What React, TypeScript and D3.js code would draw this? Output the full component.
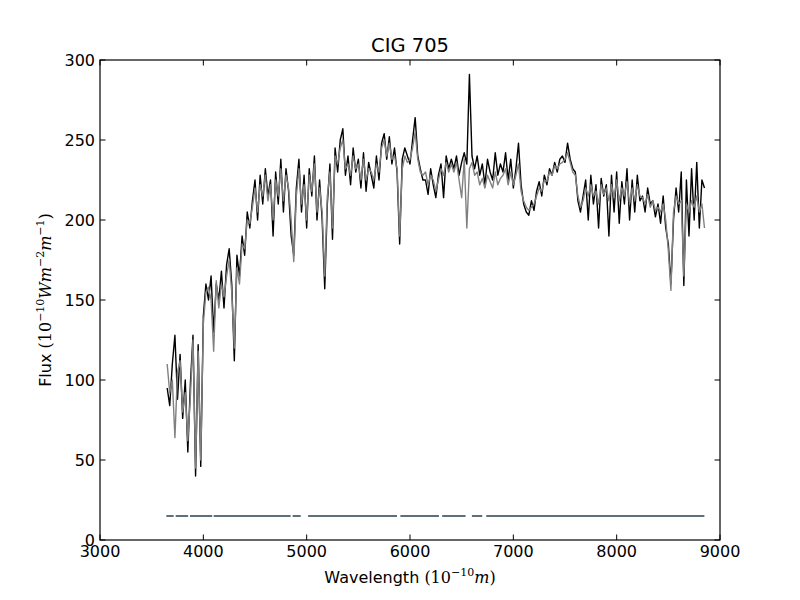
import * as d3 from "d3";

// spectrum sampled every 25 Å from 3650 Å
const waveStart = 3650;
const waveStep = 25;

// observed flux (black)
const observedFlux = [
  95, 84, 110, 128, 88, 116, 76, 100, 55, 98,
  128, 40, 122, 46, 140, 160, 150, 165, 130, 160,
  150, 168, 145, 172, 182, 160, 112, 178, 165, 190,
  178, 205, 195, 212, 225, 200, 228, 210, 232, 215,
  225, 190, 230, 210, 238, 205, 232, 218, 190, 178,
  220, 238, 205, 228, 195, 232, 215, 240, 200, 225,
  200, 157, 210, 235, 188, 245, 230, 250, 257, 228,
  240, 222, 245, 230, 238, 220, 242, 218, 236, 228,
  220, 240, 225, 248, 254, 238, 252, 235, 245, 230,
  185, 238, 245, 240, 235, 250, 264, 240, 232, 225,
  225, 216, 232, 222, 214, 228, 235, 214, 240, 232,
  238, 232, 240, 228, 236, 242, 235, 291, 240, 232,
  240, 228, 235, 222, 238, 230, 225, 242, 228, 235,
  230, 242, 225, 238, 220, 232, 248, 222, 210, 205,
  203, 212, 206, 218, 224, 215, 228, 222, 232, 228,
  236, 230, 238, 240, 236, 248, 238, 232, 230, 212,
  205, 215, 225, 200, 228, 210, 222, 195, 226, 215,
  222, 190, 228, 205, 230, 198, 224, 210, 232, 200,
  225, 205, 228, 212, 215, 205, 220, 210, 212, 202,
  210, 198, 215, 195, 185, 160, 200, 220, 205, 230,
  159, 225, 190, 232, 200, 236, 195, 225, 220,
];

// model flux (grey)
const modelFlux = [
  110, 92, 100, 64, 105, 112, 80, 92, 62, 90,
  125, 45, 118, 50, 135, 155, 158, 150, 118, 162,
  145, 160, 152, 165, 175, 155, 120, 170, 160, 185,
  182, 200, 198, 208, 220, 205, 222, 215, 228, 212,
  222, 200, 225, 215, 232, 212, 228, 220, 200, 174,
  215, 232, 210, 222, 200, 228, 218, 235, 205, 220,
  205, 165, 215, 230, 195, 240, 235, 245, 250, 232,
  235, 228, 240, 232, 235, 225, 238, 225, 232, 230,
  225, 235, 230, 245, 250, 240, 248, 238, 240, 232,
  190, 232, 240, 236, 238, 245, 255, 238, 230, 228,
  230, 222, 228, 225, 218, 225, 232, 228, 236, 230,
  235, 230, 236, 225, 214, 238, 195, 232, 236, 228,
  230, 222, 226, 220, 228, 224, 220, 230, 222, 226,
  228, 232, 222, 230, 222, 228, 235, 218, 212, 208,
  206, 208, 210, 215, 220, 218, 225, 224, 230, 228,
  234, 232, 235, 236, 238, 242, 236, 230, 228, 215,
  208, 212, 220, 215, 222, 215, 218, 210, 222, 216,
  220, 212, 222, 214, 225, 212, 220, 215, 224, 210,
  220, 212, 222, 215, 214, 210, 216, 208, 212, 206,
  208, 205, 210, 200, 181, 156, 205, 215, 210, 212,
  165, 210, 205, 212, 208, 215, 205, 210, 195,
];

// wavelength ranges of the mask drawn near the bottom
const maskSegments: [number, number][] = [
  [3642, 3713], [3732, 3853], [3871, 4086], [4100, 4845], [4864, 4942],
  [5014, 5874], [5907, 6280], [6311, 6538], [6599, 6699], [6738, 8849],
];
const maskLevel = 15;

const xTicks = [3000, 4000, 5000, 6000, 7000, 8000, 9000];
const yTicks = [0, 50, 100, 150, 200, 250, 300];
const title = "CIG 705";

/** svg dimensions */
const width = 800;
const height = 600;
const margin = { top: 60, right: 80, bottom: 60, left: 100 };
const tickLen = 5.5;
const lineW = 1.4;
const sans = "'DejaVu Sans', sans-serif";
const serif = "'DejaVu Serif', serif";

const App = () => {
  const xScale = d3
    .scaleLinear()
    .domain([xTicks[0], xTicks[xTicks.length - 1]])
    .range([margin.left, width - margin.right]);
  const yScale = d3
    .scaleLinear()
    .domain([yTicks[0], yTicks[yTicks.length - 1]])
    .range([height - margin.bottom, margin.top]);

  const line = d3
    .line<number>()
    .x((_, i) => xScale(waveStart + i * waveStep))
    .y((d) => yScale(d));

  const x0 = xScale.range()[0];
  const x1 = xScale.range()[1];
  const y0 = yScale.range()[0];
  const y1 = yScale.range()[1];

  return (
    <svg
      width={width}
      height={height}
      viewBox={[0, 0, width, height].join(" ")}
      style={{ position: "absolute", left: 0, top: 0, background: "#fff" }}
    >
      <rect x={0} y={0} width={width} height={height} fill="#fff" />
      <defs>
        <clipPath id="plot">
          <rect x={x0} y={y1} width={x1 - x0} height={y0 - y1} />
        </clipPath>
      </defs>
      <g clipPath="url(#plot)">
        <path d={line(observedFlux) ?? ""} fill="none" stroke="#000" strokeWidth={lineW} strokeLinejoin="round" />
        <path d={line(modelFlux) ?? ""} fill="none" stroke="#808080" strokeWidth={lineW} strokeLinejoin="round" />
        {maskSegments.map(([a, b], i) => (
          <line
            key={i}
            x1={xScale(a)}
            x2={xScale(b)}
            y1={yScale(maskLevel)}
            y2={yScale(maskLevel)}
            stroke="#5f6f77"
            strokeWidth={2}
          />
        ))}
      </g>
      {/* frame */}
      <rect x={x0} y={y1} width={x1 - x0} height={y0 - y1} fill="none" stroke="#000" strokeWidth={1.2} />
      {/* x ticks */}
      {xTicks.map((t) => (
        <g key={t}>
          <line x1={xScale(t)} x2={xScale(t)} y1={y0} y2={y0 - tickLen} stroke="#000" />
          <line x1={xScale(t)} x2={xScale(t)} y1={y1} y2={y1 + tickLen} stroke="#000" />
          <text x={xScale(t)} y={y0 + 17} textAnchor="middle" fontFamily={sans} fontSize={16}>
            {t}
          </text>
        </g>
      ))}
      {/* y ticks */}
      {yTicks.map((t) => (
        <g key={t}>
          <line x1={x0} x2={x0 + tickLen} y1={yScale(t)} y2={yScale(t)} stroke="#000" />
          <line x1={x1} x2={x1 - tickLen} y1={yScale(t)} y2={yScale(t)} stroke="#000" />
          <text x={x0 - 5} y={yScale(t)} dy="0.36em" textAnchor="end" fontFamily={sans} fontSize={16}>
            {t}
          </text>
        </g>
      ))}
      {/* title */}
      <text x={(x0 + x1) / 2} y={y1 - 8} textAnchor="middle" fontFamily={sans} fontSize={19.5}>
        {title}
      </text>
      {/* x-axis label */}
      <text x={(x0 + x1) / 2} y={583} textAnchor="middle" fontFamily={sans} fontSize={16}>
        Wavelength{" "}
        <tspan fontFamily={serif}>(10</tspan>
        <tspan fontFamily={serif} fontSize={11} dy={-7}>−10</tspan>
        <tspan fontFamily={serif} fontStyle="italic" dy={7}>m</tspan>
        <tspan fontFamily={serif}>)</tspan>
      </text>
      {/* y-axis label */}
      <text
        x={0}
        y={0}
        textAnchor="middle"
        fontFamily={sans}
        fontSize={16}
        transform={`translate(51, ${(y0 + y1) / 2}) rotate(-90)`}
      >
        Flux{" "}
        <tspan fontFamily={serif}>(10</tspan>
        <tspan fontFamily={serif} fontSize={11} dy={-7}>−10</tspan>
        <tspan fontFamily={serif} fontStyle="italic" dy={7}>Wm</tspan>
        <tspan fontFamily={serif} fontSize={11} dy={-7}>−2</tspan>
        <tspan fontFamily={serif} fontStyle="italic" dy={7}>m</tspan>
        <tspan fontFamily={serif} fontSize={11} dy={-7}>−1</tspan>
        <tspan fontFamily={serif} dy={7}>)</tspan>
      </text>
    </svg>
  );
};

export default App;
